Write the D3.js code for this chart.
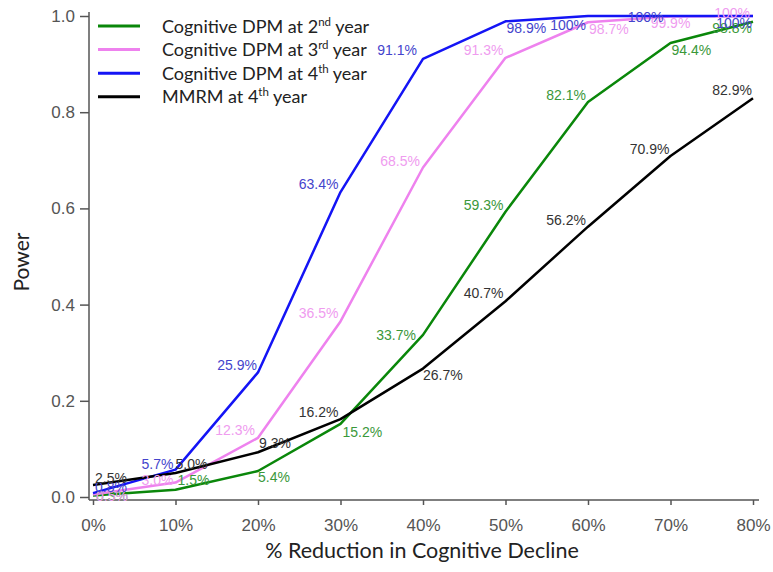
<!DOCTYPE html>
<html>
<head>
<meta charset="utf-8">
<script src="https://cdn.jsdelivr.net/npm/d3@7"></script>
<style>
  html, body { margin: 0; padding: 0; background: #fff; }
  svg { display: block; }
</style>
</head>
<body>
<svg id="chart" width="773" height="572"></svg>
<script>
// ---- data ----
const reductions = [0, 10, 20, 30, 40, 50, 60, 70, 80];           // % reduction in cognitive decline
const dpm2 = [0.3, 1.5, 5.4, 15.2, 33.7, 59.3, 82.1, 94.4, 98.8];  // power (%)
const dpm3 = [0.5, 3.0, 12.3, 36.5, 68.5, 91.3, 98.7, 99.9, 100];
const dpm4 = [0.8, 5.7, 25.9, 63.4, 91.1, 98.9, 100, 100, 100];
const mmrm4 = [2.5, 5.0, 9.3, 16.2, 26.7, 40.7, 56.2, 70.9, 82.9];
const yTicks = [0, 0.2, 0.4, 0.6, 0.8, 1.0];
const xTicks = [0, 10, 20, 30, 40, 50, 60, 70, 80];

// ---- label placement (layout only: anchor, dx, dy in px relative to point) ----
const labelPos2 = [["start",3,5],["start",2,-5],["start",0,11],["start",2,13],["end",-7,5],["end",-2,-2],["end",-2,-2],["start",1,12],["end",-1,11]];
const labelPos3 = [["start",3,6],["end",-2,2],["end",-3,-3],["end",-2,-3],["end",-3,-2],["end",-2,-3],["start",1,12],["middle",0,12],["end",-3,2]];
const labelPos4 = [["start",2,-1],["end",-2,-1],["end",-1,-2],["end",-2,-3],["end",-6,-4],["start",1,12],["end",-2,14],["end",-7,6],["end",-1,12]];
const labelPosM = [["start",2,-2],["start",0,-4],["start",1,-4],["end",-2,-2],["start",0,11],["end",-2,-3],["end",-2,-2],["end",-1,-2],["end",-1,-3]];

const series = [
  { name: "Cognitive DPM at 2", sup: "nd", tail: " year", values: dpm2, line: "#0a870a", text: "#3a983a", pos: labelPos2 },
  { name: "Cognitive DPM at 3", sup: "rd", tail: " year", values: dpm3, line: "#ee82ee", text: "#ef9cef", pos: labelPos3 },
  { name: "Cognitive DPM at 4", sup: "th", tail: " year", values: dpm4, line: "#1414f5", text: "#4444cc", pos: labelPos4 },
  { name: "MMRM at 4", sup: "th", tail: " year", values: mmrm4, line: "#000000", text: "#333333", pos: labelPosM }
];

// ---- layout ----
const svg = d3.select("#chart");
const x = d3.scaleLinear().domain([0, 80]).range([93, 753]);
const y = d3.scaleLinear().domain([0, 1]).range([497, 16]);
const axisColor = "#555";
const tickFont = "'Liberation Sans', Arial, sans-serif";
const titleFont = "Lato, 'Open Sans', sans-serif";

// axes
const xAxisG = svg.append("g").attr("transform", "translate(0,500)")
  .call(d3.axisBottom(x).tickValues(xTicks).tickFormat(d => d + "%").tickSize(5).tickSizeOuter(0).tickPadding(14));
const yAxisG = svg.append("g").attr("transform", "translate(89,0)")
  .call(d3.axisLeft(y).tickValues(yTicks).tickFormat(d3.format(".1f")).tickSize(9).tickSizeOuter(0).tickPadding(5));
[xAxisG, yAxisG].forEach(g => {
  g.selectAll("path.domain").remove();
  g.selectAll(".tick line").attr("stroke", axisColor).attr("stroke-width", 1.5);
  g.selectAll(".tick text").attr("fill", "#555").style("font-family", tickFont).style("font-size", "17px");
});
// axis lines drawn across the plotting frame
svg.append("line").attr("x1", 89).attr("x2", 759).attr("y1", 500).attr("y2", 500)
  .attr("stroke", axisColor).attr("stroke-width", 1.5);
svg.append("line").attr("x1", 89).attr("x2", 89).attr("y1", 12).attr("y2", 500)
  .attr("stroke", axisColor).attr("stroke-width", 1.5);

// axis titles
svg.append("text").attr("x", 422).attr("y", 558).attr("text-anchor", "middle")
  .style("font-family", titleFont).style("font-size", "21.5px").attr("fill", "#222")
  .text("% Reduction in Cognitive Decline");
svg.append("text").attr("transform", "translate(29,262) rotate(-90)").attr("text-anchor", "middle")
  .style("font-family", titleFont).style("font-size", "21px").attr("fill", "#222")
  .text("Power");

// lines
const lineGen = d3.line().x((d, i) => x(reductions[i])).y(d => y(d / 100));
series.forEach(s => {
  svg.append("path").datum(s.values).attr("d", lineGen)
    .attr("fill", "none").attr("stroke", s.line).attr("stroke-width", 2.5)
    .attr("stroke-linejoin", "round");
});

// data labels
series.forEach(s => {
  svg.append("g").selectAll("text").data(s.values).join("text")
    .attr("x", (d, i) => x(reductions[i]) + s.pos[i][1])
    .attr("y", (d, i) => y(d / 100) + s.pos[i][2])
    .attr("text-anchor", (d, i) => s.pos[i][0])
    .attr("fill", s.text)
    .style("font-family", tickFont).style("font-size", "14px")
    .text(d => (d === 100 ? "100" : d3.format(".1f")(d)) + "%");
});

// legend
const legend = svg.append("g").attr("transform", "translate(98,26)");
series.forEach((s, i) => {
  const gy = i * 23.6;
  legend.append("line").attr("x1", 0).attr("x2", 42).attr("y1", gy).attr("y2", gy)
    .attr("stroke", s.line).attr("stroke-width", 3);
  const t = legend.append("text").attr("x", 64).attr("y", gy + 6.5)
    .style("font-family", titleFont).style("font-size", "18px").attr("fill", "#222");
  t.append("tspan").text(s.name);
  t.append("tspan").attr("dy", -7).style("font-size", "11.5px").text(s.sup);
  t.append("tspan").attr("dy", 7).text(s.tail);
});
</script>
</body>
</html>
